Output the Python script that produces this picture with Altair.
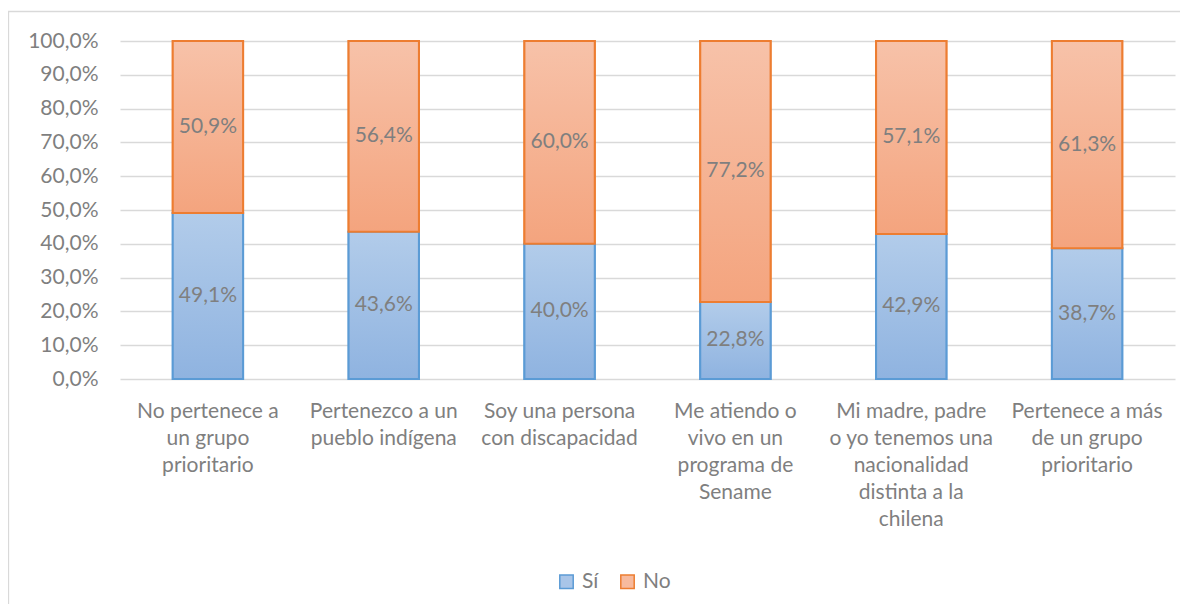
import altair as alt
import pandas as pd

categorias = [
    "No pertenece a\nun grupo\nprioritario",
    "Pertenezco a un\npueblo indígena",
    "Soy una persona\ncon discapacidad",
    "Me atiendo o\nvivo en un\nprograma de\nSename",
    "Mi madre, padre\no yo tenemos una\nnacionalidad\ndistinta a la\nchilena",
    "Pertenece a más\nde un grupo\nprioritario",
]
si = [49.1, 43.6, 40.0, 22.8, 42.9, 38.7]
no = [50.9, 56.4, 60.0, 77.2, 57.1, 61.3]
series = ["Sí", "No"]
colores_borde = ["#5B9BD5", "#ED7D31"]
colores_relleno = ["#A9C5E8", "#F7BA9E"]
ticks_y = list(range(0, 101, 10))

rows = []
for c, s, n in zip(categorias, si, no):
    rows.append({"cat": c, "serie": "Sí", "valor": s, "y0": 0.0, "y1": s})
    rows.append({"cat": c, "serie": "No", "valor": n, "y0": s, "y1": s + n})
df = pd.DataFrame(rows)
df["mid"] = (df["y0"] + df["y1"]) / 2

FONT = "Lato"
GRAY = "#7F7F7F"
FS = 21

grad_azul = alt.Gradient(
    gradient="linear",
    stops=[alt.GradientStop(color="#B2CCEA", offset=0), alt.GradientStop(color="#8FB3E0", offset=1)],
    x1=0, x2=0, y1=0, y2=1,
)
grad_naranja = alt.Gradient(
    gradient="linear",
    stops=[alt.GradientStop(color="#F7C2A9", offset=0), alt.GradientStop(color="#F4A47E", offset=1)],
    x1=0, x2=0, y1=0, y2=1,
)

x_axis = alt.Axis(
    labelAngle=0,
    labelExpr="split(datum.value, '\\n')",
    labelFont=FONT,
    labelFontSize=FS,
    labelLineHeight=27,
    labelColor=GRAY,
    labelPadding=21,
    labelLimit=300,
    labelOverlap=False,
    domain=False,
    ticks=False,
    grid=False,
)
x_scale = alt.Scale(paddingInner=0.6, paddingOuter=0.3)
y_axis = alt.Axis(
    values=ticks_y,
    labelExpr="replace(format(datum.value / 100, '.1%'), '.', ',')",
    labelFont=FONT,
    labelFontSize=FS,
    labelColor=GRAY,
    labelPadding=22,
    labelOverlap=False,
    domain=False,
    ticks=False,
    grid=True,
    gridColor="#D9D9D9",
    gridWidth=1.3,
)
y_scale = alt.Scale(domain=[0, 100], nice=False)


def X():
    return alt.X("cat:N", sort=categorias, title=None, scale=x_scale, axis=x_axis)


def Y(field):
    return alt.Y(field, title=None, scale=y_scale, axis=y_axis)


leyenda = alt.Legend(
    title=None,
    orient="none",
    legendX=436,
    legendY=530,
    direction="horizontal",
    symbolType="square",
    symbolSize=180,
    symbolStrokeWidth=1.5,
    labelFont=FONT,
    labelFontSize=FS,
    labelColor=GRAY,
    labelOffset=5,
    columnPadding=18,
)

base = alt.Chart(df)

# base bars (flat fill) carry the legend
bar_base = base.mark_bar(strokeWidth=2).encode(
    x=X(),
    y=Y("y0:Q"),
    y2="y1:Q",
    fill=alt.Fill("serie:N", scale=alt.Scale(domain=series, range=colores_relleno), legend=leyenda),
    stroke=alt.Stroke("serie:N", scale=alt.Scale(domain=series, range=colores_borde), legend=leyenda),
)

bar_si = base.transform_filter(alt.datum.serie == "Sí").mark_bar(
    fill=grad_azul, stroke="#5B9BD5", strokeWidth=2
).encode(x=X(), y=Y("y0:Q"), y2="y1:Q")

bar_no = base.transform_filter(alt.datum.serie == "No").mark_bar(
    fill=grad_naranja, stroke="#ED7D31", strokeWidth=2
).encode(x=X(), y=Y("y0:Q"), y2="y1:Q")

etiquetas = base.transform_calculate(
    txt="replace(format(datum.valor / 100, '.1%'), '.', ',')"
).mark_text(font=FONT, fontSize=FS, color=GRAY, baseline="middle").encode(
    x=X(),
    y=Y("mid:Q"),
    text="txt:N",
)

marco = alt.Chart(pd.DataFrame({"a": [0]})).mark_rect(
    fill=None, stroke="#D9D9D9", strokeWidth=1.3
).encode(
    x=alt.value(-111.5), x2=alt.value(1300), y=alt.value(-29.5), y2=alt.value(700)
)

chart = alt.layer(marco, bar_base, bar_si, bar_no, etiquetas).properties(
    width=1055,
    height=338,
    autosize=alt.AutoSizeParams(type="none"),
    padding={"left": 112, "top": 33, "right": 5, "bottom": 225},
).configure_view(stroke=None)

chart.save("out.html", embed_options={"renderer": "svg", "actions": False})
